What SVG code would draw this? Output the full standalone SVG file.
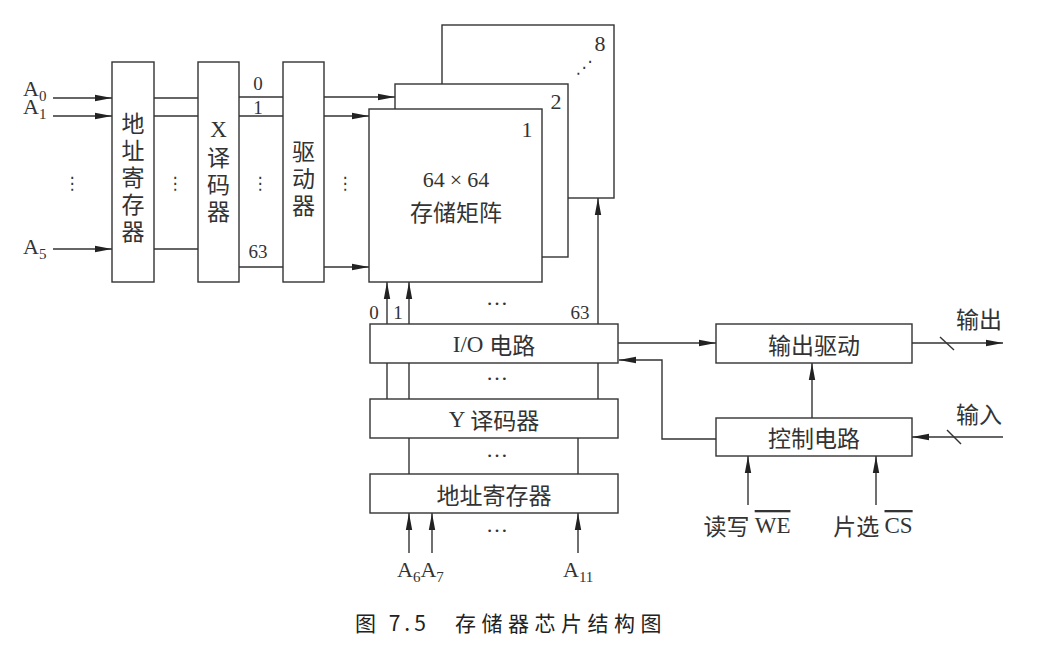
<svg xmlns="http://www.w3.org/2000/svg" width="1042" height="662" viewBox="0 0 1042 662">
<style>
.b{fill:#fff;stroke:#333;stroke-width:1.4}
.l{fill:none;stroke:#333;stroke-width:1.4}
.a{fill:none;stroke:#333;stroke-width:1.4;marker-end:url(#ah)}
.cj{font-family:"Noto Sans CJK SC",sans-serif;font-size:23px;fill:#333}
.vt{font-family:"Noto Sans CJK SC",sans-serif;font-size:23px;fill:#333;writing-mode:vertical-rl;text-orientation:upright;letter-spacing:4px}
.ro{font-family:"Liberation Serif",serif;font-size:22px;fill:#333}
.sm{font-family:"Liberation Serif",serif;font-size:19px;fill:#333}
.sb{font-size:15px}
.dt{font-family:"DejaVu Sans",sans-serif;font-size:17px;fill:#333}
.cap{font-family:"Noto Sans CJK SC",sans-serif;font-size:21px;fill:#222}
</style>
<defs>
<marker id="ah" markerUnits="userSpaceOnUse" markerWidth="18" markerHeight="8" refX="17" refY="4" orient="auto">
<path d="M0,0.8 L17,4 L0,7.2 z" fill="#222"/>
</marker>
</defs>
<g id="connectors">
<line class="a" x1="53" y1="98" x2="112" y2="98"/>
<line class="a" x1="53" y1="116" x2="112" y2="116"/>
<line class="a" x1="53" y1="249" x2="112" y2="249"/>
<line class="l" x1="154" y1="98" x2="198" y2="98"/>
<line class="l" x1="154" y1="116" x2="198" y2="116"/>
<line class="l" x1="154" y1="249" x2="198" y2="249"/>
<line class="l" x1="239" y1="97" x2="283" y2="97"/>
<line class="l" x1="239" y1="116" x2="283" y2="116"/>
<line class="l" x1="239" y1="267" x2="283" y2="267"/>
<line class="a" x1="324" y1="97" x2="395" y2="97"/>
<line class="a" x1="324" y1="116" x2="369" y2="116"/>
<line class="a" x1="324" y1="267" x2="369" y2="267"/>
<line class="a" x1="387" y1="324" x2="387" y2="282"/>
<line class="a" x1="409" y1="324" x2="409" y2="282"/>
<line class="a" x1="598" y1="324" x2="598" y2="198"/>
<line class="l" x1="387" y1="363" x2="387" y2="399"/>
<line class="l" x1="409" y1="363" x2="409" y2="399"/>
<line class="l" x1="598" y1="363" x2="598" y2="399"/>
<line class="l" x1="409" y1="438" x2="409" y2="474"/>
<line class="l" x1="578" y1="438" x2="578" y2="474"/>
<line class="a" x1="409" y1="553" x2="409" y2="513"/>
<line class="a" x1="432" y1="553" x2="432" y2="513"/>
<line class="a" x1="578" y1="553" x2="578" y2="513"/>
<line class="a" x1="618" y1="343" x2="716" y2="343"/>
<polyline class="a" points="716,439 662,439 662,360 619,360"/>
<line class="a" x1="812" y1="418" x2="812" y2="363"/>
<line class="a" x1="912" y1="343" x2="1003" y2="343"/>
<line class="l" x1="940" y1="337" x2="954" y2="350"/>
<line class="a" x1="1003" y1="437" x2="912" y2="437"/>
<line class="l" x1="947" y1="430" x2="961" y2="444"/>
<line class="a" x1="748" y1="505" x2="748" y2="456"/>
<line class="a" x1="876" y1="505" x2="876" y2="456"/>
</g>
<g id="input-labels">
<text class="ro"><tspan x="23" y="96">A</tspan><tspan class="sb" dy="5">0</tspan><tspan x="23" y="114">A</tspan><tspan class="sb" dy="5">1</tspan></text>
<text class="ro" x="23" y="254">A<tspan class="sb" dy="5">5</tspan></text>
<text class="dt" x="72" y="183" text-anchor="middle" dominant-baseline="central">⋮</text>
<text class="dt" x="175" y="183" text-anchor="middle" dominant-baseline="central">⋮</text>
<text class="dt" x="260" y="183" text-anchor="middle" dominant-baseline="central">⋮</text>
<text class="dt" x="345" y="183" text-anchor="middle" dominant-baseline="central">⋮</text>
<text class="sm" x="258" y="90" text-anchor="middle">0</text>
<text class="sm" x="258" y="114" text-anchor="middle">1</text>
<text class="sm" x="258" y="258" text-anchor="middle">63</text>
</g>
<g id="addr-reg-x">
<rect class="b" x="112" y="62" width="42" height="220"/>
<text class="vt" x="133" y="112">地址寄存器</text>
</g>
<g id="x-decoder">
<rect class="b" x="198" y="62" width="41" height="220"/>
<text class="vt" x="218.5" y="117"><tspan font-family="Liberation Serif">X</tspan>译码器</text>
</g>
<g id="driver">
<rect class="b" x="283" y="62" width="41" height="220"/>
<text class="vt" x="303.5" y="140">驱动器</text>
</g>
<g id="matrix">
<rect class="b" x="442" y="25" width="172" height="173"/>
<text class="ro" x="600" y="51" text-anchor="middle">8</text>
<text class="dt" x="584" y="67" text-anchor="middle" dominant-baseline="central">⋰</text>
<rect class="b" x="395" y="84" width="173" height="173"/>
<text class="ro" x="556" y="109" text-anchor="middle">2</text>
<rect class="b" x="369" y="109" width="173" height="173"/>
<text class="ro" x="527" y="137" text-anchor="middle">1</text>
<text class="ro" x="456" y="179" text-anchor="middle" dominant-baseline="central">64<tspan dx="5">×</tspan><tspan dx="5">64</tspan></text>
<text class="cj" x="456" y="211" text-anchor="middle" dominant-baseline="central">存储矩阵</text>
</g>
<g id="col-labels">
<text class="sm" x="374" y="319" text-anchor="middle">0</text>
<text class="sm" x="398" y="319" text-anchor="middle">1</text>
<text class="sm" x="580" y="319" text-anchor="middle">63</text>
<text class="ro" x="497" y="305" text-anchor="middle">…</text>
<text class="ro" x="497" y="380" text-anchor="middle">…</text>
<text class="ro" x="497" y="457" text-anchor="middle">…</text>
<text class="ro" x="497" y="532" text-anchor="middle">…</text>
</g>
<g id="io">
<rect class="b" x="370" y="324" width="248" height="39"/>
<text class="cj" x="494" y="344" text-anchor="middle" dominant-baseline="central"><tspan font-family="Liberation Serif">I/O </tspan>电路</text>
</g>
<g id="y-decoder">
<rect class="b" x="370" y="399" width="248" height="39"/>
<text class="cj" x="494" y="419" text-anchor="middle" dominant-baseline="central"><tspan font-family="Liberation Serif">Y </tspan>译码器</text>
</g>
<g id="addr-reg-y">
<rect class="b" x="370" y="474" width="248" height="39"/>
<text class="cj" x="494" y="494" text-anchor="middle" dominant-baseline="central">地址寄存器</text>
</g>
<g id="y-inputs">
<text class="ro" x="397" y="577">A<tspan class="sb" dy="5">6</tspan><tspan dy="-5">A</tspan><tspan class="sb" dy="5">7</tspan></text>
<text class="ro" x="563" y="577">A<tspan class="sb" dy="5">11</tspan></text>
</g>
<g id="out-driver">
<rect class="b" x="716" y="324" width="196" height="39"/>
<text class="cj" x="814" y="344" text-anchor="middle" dominant-baseline="central">输出驱动</text>
</g>
<g id="control">
<rect class="b" x="716" y="418" width="196" height="38"/>
<text class="cj" x="814" y="437" text-anchor="middle" dominant-baseline="central">控制电路</text>
</g>
<g id="io-labels">
<text class="cj" x="979" y="318" text-anchor="middle" dominant-baseline="central">输出</text>
<text class="cj" x="979" y="413" text-anchor="middle" dominant-baseline="central">输入</text>
<text class="cj" x="747" y="525" text-anchor="middle" dominant-baseline="central">读写 <tspan font-family="Liberation Serif" text-decoration="overline">WE</tspan></text>
<text class="cj" x="873" y="525" text-anchor="middle" dominant-baseline="central">片选 <tspan font-family="Liberation Serif" text-decoration="overline">CS</tspan></text>
</g>
<g id="caption">
<text class="cap" x="355" y="622" dominant-baseline="central" letter-spacing="4" xml:space="preserve">图 7.5</text>
<text class="cap" x="455" y="622" dominant-baseline="central" letter-spacing="5.5">存储器芯片结构图</text>
</g>
</svg>
